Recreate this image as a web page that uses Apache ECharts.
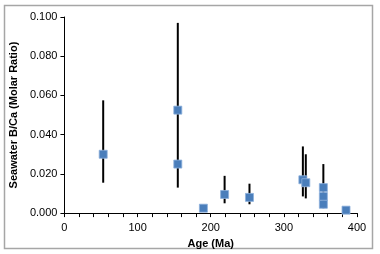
<!DOCTYPE html>
<html><head><meta charset="utf-8">
<script src="https://cdn.jsdelivr.net/npm/echarts@6/dist/echarts.min.js"></script>
<style>html,body{margin:0;padding:0;background:#fff}#c{width:380px;height:254px}</style>
</head><body><div id="c"></div>
<script>
// Point data
var ages   = [53, 155, 155, 190, 219, 253, 326, 330, 354, 354, 354, 385];
var values = [0.030, 0.0525, 0.025, 0.0025, 0.0095, 0.008, 0.017, 0.0155, 0.013, 0.0085, 0.0045, 0.0015];
// Error bar data
var errAges = [53, 155, 219, 253, 326, 330, 354];
var errLow  = [0.0155, 0.013, 0.005, 0.0045, 0.0085, 0.0075, 0.0025];
var errHigh = [0.0575, 0.097, 0.019, 0.015, 0.034, 0.030, 0.025];
var xTitle = 'Age (Ma)';
var yTitle = 'Seawater B/Ca (Molar Ratio)';

var pts = ages.map(function(a,i){return [a, values[i]];});
var errs = errAges.map(function(a,i){return [a, errLow[i], errHigh[i]];});
var FONT = '"Liberation Sans", Arial, sans-serif';

var chart = echarts.init(document.getElementById('c'), null, {renderer:'canvas'});
chart.setOption({
  animation:false,
  backgroundColor:'#fff',
  graphic:[{type:'rect', shape:{x:4.5,y:5.5,width:368,height:243}, style:{fill:'none', stroke:'#a6a6a6', lineWidth:1.5}, z:-1}],
  grid:{left:61, top:17, right:23, bottom:37, containLabel:false},
  xAxis:{type:'value', min:0, max:400, interval:100,
    name:xTitle, nameLocation:'middle', nameGap:17,
    nameTextStyle:{fontFamily:FONT, fontWeight:'bold', fontSize:11, color:'#000'},
    axisLine:{show:true, lineStyle:{color:'#000', width:1}},
    axisTick:{show:true, inside:false, length:4, lineStyle:{color:'#000'}},
    minorTick:{show:true, splitNumber:5, length:4, lineStyle:{color:'#000'}},
    splitLine:{show:false},
    axisLabel:{fontFamily:FONT, fontSize:11, color:'#000', margin:9}
  },
  yAxis:{type:'value', min:0, max:0.1, interval:0.02,
    name:yTitle, nameLocation:'middle', nameGap:45,
    nameTextStyle:{fontFamily:FONT, fontWeight:'bold', fontSize:11, color:'#000'},
    axisLine:{show:true, lineStyle:{color:'#000', width:1}},
    axisTick:{show:true, inside:false, length:4, lineStyle:{color:'#000'}},
    splitLine:{show:false},
    axisLabel:{fontFamily:FONT, fontSize:11, color:'#000', margin:7,
      formatter:function(v){return v.toFixed(3);}}
  },
  series:[
    {type:'custom', data:errs, z:2,
      renderItem:function(params, api){
        var p1 = api.coord([api.value(0), api.value(1)]);
        var p2 = api.coord([api.value(0), api.value(2)]);
        return {type:'line', shape:{x1:p1[0],y1:p1[1],x2:p2[0],y2:p2[1]},
          style:{stroke:'#000', lineWidth:2}};
      }},
    {type:'scatter', data:pts, symbol:'rect', symbolSize:8, z:3,
      itemStyle:{color:'#4a7ebb', borderColor:'#8db0dc', borderWidth:0.8, opacity:1}}
  ]
});
</script></body></html>
